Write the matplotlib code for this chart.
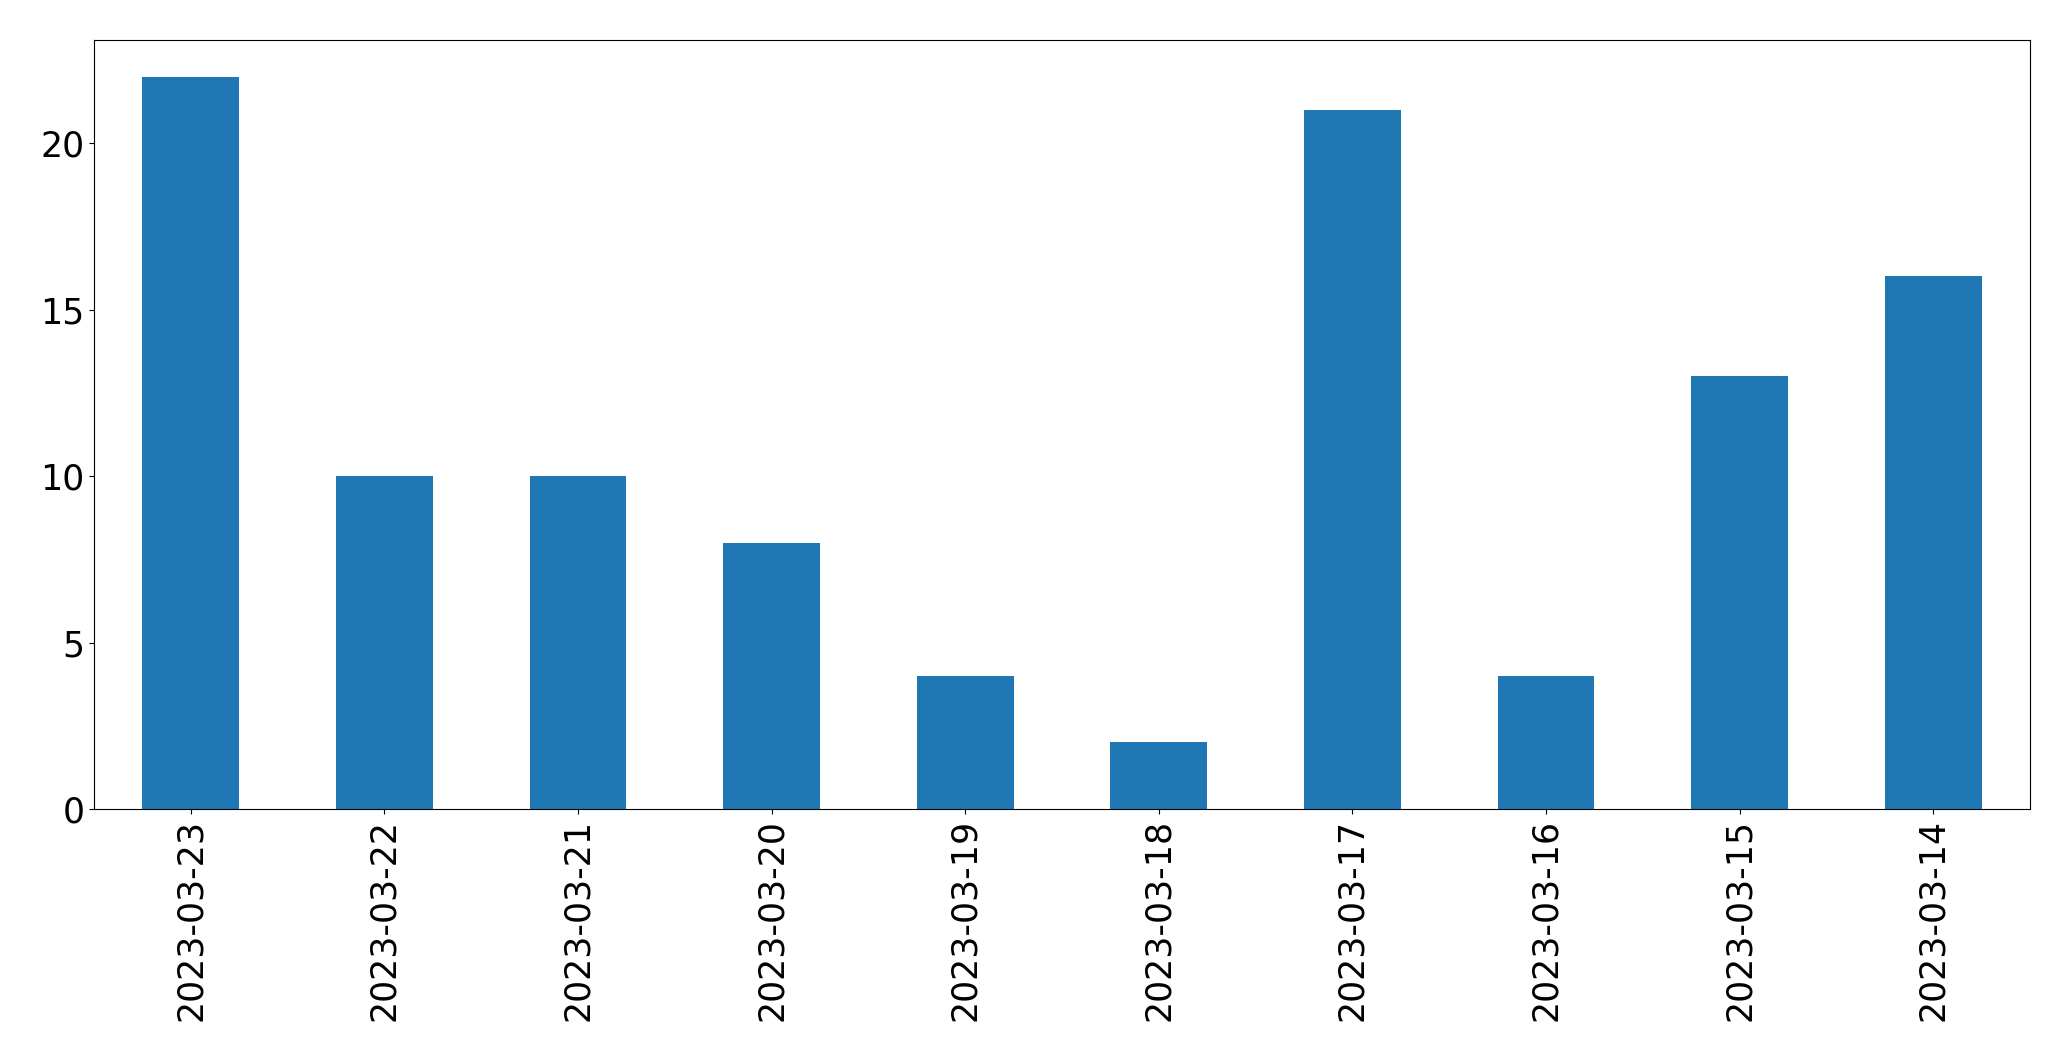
import matplotlib
matplotlib.use("Agg")
import matplotlib.pyplot as plt
import numpy as np

dates = ["2023-03-23", "2023-03-22", "2023-03-21", "2023-03-20", "2023-03-19",
         "2023-03-18", "2023-03-17", "2023-03-16", "2023-03-15", "2023-03-14"]
counts = [22, 10, 10, 8, 4, 2, 21, 4, 13, 16]

fig = plt.figure(figsize=(20.71, 10.61), dpi=100)
ax = fig.add_axes([94/2071, 1 - 809/1061, (2030-94)/2071, (809-40)/1061])
x = np.arange(len(dates))
ax.bar(x, counts, width=0.5, color="#1f77b4")
ax.set_xlim(-0.5, len(dates) - 0.5)
ax.set_ylim(0, max(counts) * 1.05)
ax.set_xticks(x)
ax.set_xticklabels(dates, rotation=90)
ax.set_yticks([0, 5, 10, 15, 20])
ax.tick_params(labelsize=25)
fig.savefig("out.png", dpi=100)
